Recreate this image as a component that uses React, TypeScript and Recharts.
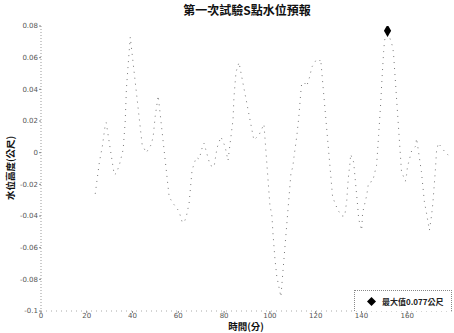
import {
  ComposedChart,
  Line,
  Scatter,
  XAxis,
  YAxis,
  ZAxis,
  Legend
} from 'recharts'

// 時間(分)
const minutes = [
  23.7, 25.5, 26.8, 28.1, 28.5, 32.0, 32.9, 34.2, 35.9, 36.8, 37.3, 38.1, 39.0,
  44.2, 46.0, 48.1, 49.0, 49.9, 50.8, 51.2, 56.0, 57.7, 60.3, 61.7, 62.5, 63.4,
  64.7, 66.0, 67.8, 69.1, 70.4, 71.2, 73.9, 75.6, 76.9, 78.6, 80.4, 81.7, 83.9,
  84.3, 85.2, 86.5, 93.0, 95.2, 97.4, 100.0, 100.9, 101.3, 102.2, 103.0, 104.8,
  109.2, 110.0, 110.5, 111.8, 112.6, 113.5, 113.9, 115.2, 116.1, 117.4, 118.3,
  120.0, 121.3, 122.2, 127.4, 129.6, 131.4, 132.7, 133.6, 134.0, 134.4, 134.9,
  135.3, 136.6, 138.3, 138.8, 140.1, 140.5, 142.3, 143.1, 144.9, 146.6, 147.0,
  147.5, 148.4, 148.8, 149.2, 149.7, 150.1, 151.4, 153.6, 154.0, 157.5, 159.2,
  159.7, 160.1, 161.0, 161.9, 163.6, 164.1, 166.2, 167.5, 168.4, 169.7, 170.6,
  171.2, 172.3, 172.8, 173.6, 176.2, 178.9
]

// 水位高度(公尺)
const levels = [
  -0.026, -0.006, 0.004, 0.018, 0.019, -0.014, -0.013, -0.008, 0.002, 0.02, 0.04, 0.056, 0.073,
  0.005, 0.0, 0.005, 0.01, 0.023, 0.032, 0.036, -0.028, -0.032, -0.037, -0.044, -0.044, -0.041,
  -0.032, -0.011, -0.003, -0.004, 0.003, 0.006, -0.008, -0.009, 0.003, 0.01, 0.004, -0.005, 0.021,
  0.035, 0.051, 0.057, 0.008, 0.011, 0.018, -0.033, -0.04, -0.05, -0.067, -0.078, -0.091,
  -0.013, -0.009, -0.003, 0.011, 0.022, 0.038, 0.044, 0.044, 0.042, 0.048, 0.054,
  0.058, 0.057, 0.059, -0.028, -0.036, -0.04, -0.04, -0.03, -0.021, -0.014, -0.008,
  -0.001, -0.006, -0.033, -0.042, -0.049, -0.038, -0.027, -0.019, -0.018, -0.008, 0.0,
  0.011, 0.031, 0.042, 0.052, 0.064, 0.071, 0.077, 0.067, 0.063, -0.012, -0.018,
  -0.014, -0.009, -0.004, 0.001, 0.004, 0.009, -0.012, -0.031, -0.038, -0.049, -0.04,
  -0.032, -0.011, 0.001, 0.006, 0.001, -0.003
]

const maxPoint = [{ t: 151.4, v: 0.077 }]

const xTicks = [0, 20, 40, 60, 80, 100, 120, 140, 160]
const yTicks = [0.08, 0.06, 0.04, 0.02, 0, -0.02, -0.04, -0.06, -0.08, -0.1]

const chartData = minutes.map((t, i) => ({ t, v: levels[i] }))

const tickStyle = { fill: '#555', fontSize: 7, fontFamily: 'DejaVu Sans, sans-serif' }
const cjk = '"Noto Sans CJK TC", "Noto Sans CJK SC", sans-serif'

function renderLegend(props: any) {
  const items = (props.payload || []).filter((p: any) => p.type !== 'none')
  return (
    <div
      style={{
        boxSizing: 'border-box',
        width: 98,
        height: 21,
        border: '1px dotted #888',
        borderBottom: 'none',
        display: 'flex',
        alignItems: 'center',
        paddingLeft: 12,
        background: '#fff'
      }}
    >
      {items.map((item: any) => (
        <span key={item.value} style={{ display: 'flex', alignItems: 'center' }}>
          <svg width={9} height={9} style={{ marginRight: 6 }}>
            <path d="M4.5 0 L9 4.5 L4.5 9 L0 4.5 Z" fill="#000" />
          </svg>
          <span style={{ fontFamily: cjk, fontSize: 8, color: '#222', fontWeight: 700 }}>
            {item.value}
          </span>
        </span>
      ))}
    </div>
  )
}

export default function App() {
  return (
    <div style={{ position: 'absolute', left: 0, top: 0, width: 454, height: 333, background: '#fff' }}>
      <div
        style={{
          position: 'absolute',
          left: 0,
          width: 494,
          top: 3,
          textAlign: 'center',
          fontFamily: cjk,
          fontSize: 12,
          fontWeight: 700,
          color: '#111',
          lineHeight: '14px'
        }}
      >
        第一次試驗S點水位預報
      </div>
      <div
        style={{
          position: 'absolute',
          left: 206,
          width: 80,
          top: 320,
          textAlign: 'center',
          fontFamily: cjk,
          fontSize: 9.5,
          fontWeight: 700,
          color: '#111',
          lineHeight: '12px'
        }}
      >
        時間(分)
      </div>
      <div
        style={{
          position: 'absolute',
          left: 10,
          top: 168,
          transform: 'translate(-50%, -50%) rotate(-90deg)',
          whiteSpace: 'nowrap',
          fontFamily: cjk,
          fontSize: 9.5,
          fontWeight: 700,
          color: '#111',
          lineHeight: '11px'
        }}
      >
        水位高度(公尺)
      </div>
      <ComposedChart
        width={454}
        height={333}
        data={chartData}
        margin={{ top: 26, right: 1, bottom: 0, left: 0 }}
        style={{ position: 'absolute', left: 0, top: 0 }}
      >
        <XAxis
          dataKey="t"
          type="number"
          domain={[0, 180]}
          ticks={xTicks}
          height={22}
          tick={tickStyle}
          tickSize={2}
          tickMargin={0}
          axisLine={{ stroke: '#aaa', strokeDasharray: '1 4' }}
          tickLine={{ stroke: '#888' }}
          allowDataOverflow
        />
        <YAxis
          type="number"
          domain={[-0.1, 0.08]}
          ticks={yTicks}
          width={41}
          tick={tickStyle}
          tickSize={2}
          tickMargin={1}
          tickFormatter={(v: number) => String(Number(v.toFixed(2)))}
          axisLine={{ stroke: '#999', strokeDasharray: '1 2' }}
          tickLine={{ stroke: '#888' }}
          allowDataOverflow
        />
        <ZAxis range={[45, 45]} />
        <Line
          dataKey="v"
          type="linear"
          stroke="#777"
          strokeWidth={1}
          strokeDasharray="1 5"
          dot={false}
          legendType="none"
          isAnimationActive={false}
        />
        <Scatter
          name="最大值0.077公尺"
          data={maxPoint}
          dataKey="v"
          fill="#000"
          shape="diamond"
          legendType="diamond"
          isAnimationActive={false}
        />
        <Legend
          content={renderLegend}
          layout="horizontal"
          verticalAlign="middle"
          align="center"
          wrapperStyle={{ left: 354, top: 290, width: 98, height: 21 }}
        />
      </ComposedChart>
    </div>
  )
}
